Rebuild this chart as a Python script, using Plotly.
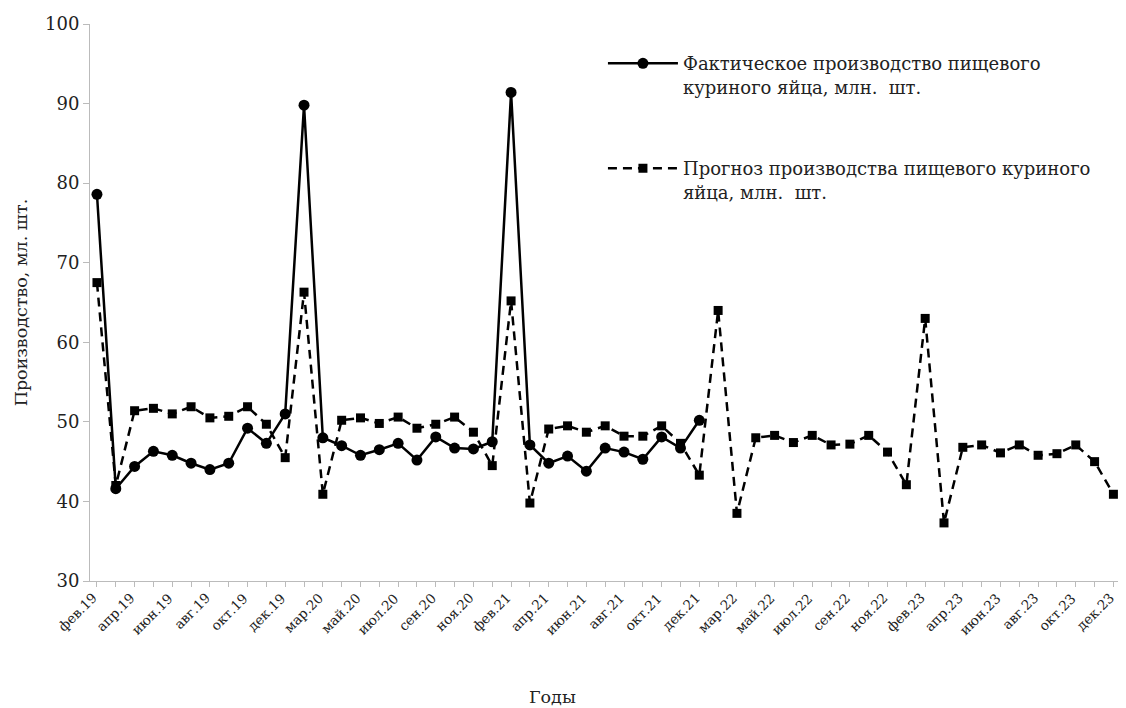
import plotly.graph_objects as go

months = ["фев", "мар", "апр", "май", "июн", "июл", "авг", "сен", "окт", "ноя", "дек"]
years = ["19", "20", "21", "22", "23"]
categories = [f"{m}.{y}" for y in years for m in months]
label_categories = categories[::2]

actual = [78.6, 41.6, 44.4, 46.3, 45.8, 44.8, 44.0, 44.8, 49.2, 47.3, 51.0,
          89.8, 48.0, 47.0, 45.8, 46.5, 47.3, 45.2, 48.1, 46.7, 46.6, 47.5,
          91.4, 47.1, 44.8, 45.7, 43.8, 46.7, 46.2, 45.3, 48.1, 46.7, 50.2]

forecast = [67.5, 42.0, 51.4, 51.7, 51.0, 51.9, 50.5, 50.7, 51.9, 49.7, 45.5,
            66.3, 40.9, 50.2, 50.5, 49.8, 50.6, 49.2, 49.7, 50.6, 48.7, 44.5,
            65.2, 39.8, 49.1, 49.5, 48.7, 49.5, 48.2, 48.2, 49.5, 47.3, 43.3,
            64.0, 38.5, 48.0, 48.3, 47.4, 48.3, 47.1, 47.2, 48.3, 46.2, 42.1,
            63.0, 37.3, 46.8, 47.1, 46.1, 47.1, 45.8, 46.0, 47.1, 45.0, 40.9]

name_actual = "Фактическое производство пищевого<br>куриного яйца, млн.  шт."
name_forecast = "Прогноз производства пищевого куриного<br>яйца, млн.  шт."
x_title = "Годы"
y_title = "Производство, мл. шт."

font = "DejaVu Serif"
txt = "#222"

fig = go.Figure()
fig.add_trace(go.Scatter(
    x=categories, y=forecast, mode="lines+markers", name=name_forecast,
    line=dict(color="black", width=2.5, dash="9px,6px"),
    marker=dict(symbol="square", size=9, color="black"),
    legendgroup="b", legendrank=2,
))
fig.add_trace(go.Scatter(
    x=categories[:len(actual)], y=actual, mode="lines+markers", name=name_actual,
    line=dict(color="black", width=2.5),
    marker=dict(symbol="circle", size=11, color="black"),
    legendgroup="a", legendrank=1,
))

# rotated month labels under the category axis
annotations = [dict(
    text=c, xref="x", yref="paper", x=c, y=0,
    xanchor="right", yanchor="top", textangle=-45,
    xshift=6, yshift=-6, showarrow=False,
    font=dict(family=font, size=13.5, color=txt),
) for c in label_categories]
annotations.append(dict(
    text=x_title, xref="paper", yref="paper", x=0.4495, y=-0.208,
    xanchor="center", yanchor="middle", showarrow=False,
    font=dict(family=font, size=17.5, color=txt),
))

fig.update_layout(
    width=1126, height=708,
    margin=dict(l=82, r=14, t=16, b=135),
    paper_bgcolor="white", plot_bgcolor="white",
    font=dict(family=font, color=txt, size=18),
    showlegend=True,
    legend=dict(x=0.498, y=0.962, xanchor="left", yanchor="top", valign="top",
                font=dict(family=font, size=18, color=txt),
                itemwidth=70, tracegroupgap=55, traceorder="grouped",
                bgcolor="rgba(0,0,0,0)"),
    xaxis=dict(
        type="category", range=[-0.37, 54.35], automargin=False,
        tickmode="array", tickvals=categories, showticklabels=False,
        ticks="outside", ticklen=5, tickcolor="#bbb",
        showline=True, linecolor="#bbb", linewidth=1,
        showgrid=False, zeroline=False,
    ),
    yaxis=dict(
        range=[30, 100], dtick=10, automargin=False,
        ticks="outside", ticklen=6, tickcolor="#bbb",
        showline=True, linecolor="#bbb", linewidth=1,
        showgrid=False, zeroline=False,
        tickfont=dict(family=font, size=18, color=txt),
        title=dict(text=y_title, font=dict(family=font, size=17.5, color=txt), standoff=12),
    ),
    annotations=annotations,
)

fig.write_html("out.html")
